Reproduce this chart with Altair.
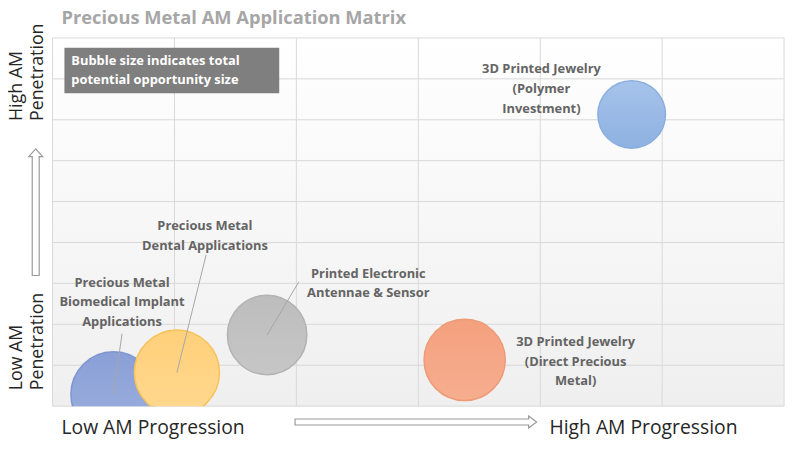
import altair as alt
import pandas as pd

# ---------------- data ----------------
apps = [
    "Precious Metal Biomedical Implant Applications",
    "Precious Metal Dental Applications",
    "Printed Electronic Antennae & Sensor",
    "3D Printed Jewelry (Direct Precious Metal)",
    "3D Printed Jewelry (Polymer Investment)",
]
progression = [0.50, 1.02, 1.76, 3.38, 4.75]      # AM progression (x)
penetration = [0.29, 0.82, 1.74, 1.13, 7.13]      # AM penetration (y)
opportunity = [1.00, 1.00, 0.87, 0.91, 0.63]      # relative opportunity size
label_text = [
    "Precious Metal\nBiomedical Implant\nApplications",
    "Precious Metal\nDental Applications",
    "Printed Electronic\nAntennae & Sensor",
    "3D Printed Jewelry\n(Direct Precious\nMetal)",
    "3D Printed Jewelry\n(Polymer\nInvestment)",
]
grid_x = [0, 1, 2, 3, 4, 5, 6]
grid_y = [0, 1, 2, 3, 4, 5, 6, 7, 8, 9]
title_text = "Precious Metal AM Application Matrix"
note_text = "Bubble size indicates total\npotential opportunity size"
x_low, x_high = "Low AM Progression", "High AM Progression"
y_low, y_high = ["Low AM", "Penetration"], ["High AM", "Penetration"]

# ---------------- annotation layout (data units, first text line) ----------------
label_x = [0.57, 1.25, 2.59, 4.29, 4.01]
label_y = [3.02, 4.40, 3.24, 1.57, 8.23]
leader_x = [0.57, 1.26, 2.02, None, None]
leader_y = [1.77, 3.70, 3.04, None, None]

# ---------------- style ----------------
fill_top = ["#8A9FD6", "#FFD07A", "#BDBDBD", "#F4A07E", "#A6C3EA"]
fill_bot = ["#9CB0DF", "#FFD88F", "#C6C6C6", "#F6AE8F", "#8DB1E1"]
strokes = ["#7D95D0", "#F5C25A", "#B3B3B3", "#EE9A76", "#8AAEDD"]
FONT = "Open Sans"
W, H = 739, 372
XDOM, YDOM = [0, 6], [0, 9]

bubbles = pd.DataFrame({"app": apps, "x": progression, "y": penetration, "size": opportunity})
labels = pd.DataFrame({"app": apps, "lx": label_x, "ly": label_y, "text": label_text})
leaders = pd.DataFrame({"app": apps, "lx": leader_x, "ly": leader_y,
                        "x": progression, "y": penetration}).dropna()
gx = pd.DataFrame({"g": grid_x})
gy = pd.DataFrame({"g": grid_y})
one = pd.DataFrame({"k": [0]})

xscale = alt.Scale(domain=XDOM, nice=False, zero=False)
yscale = alt.Scale(domain=YDOM, nice=False, zero=False)

def grad(top, bot):
    return alt.LinearGradient(gradient="linear",
                              stops=[alt.GradientStop(color=top, offset=0),
                                     alt.GradientStop(color=bot, offset=1)],
                              x1=0, x2=0, y1=0, y2=1)

layers = []

# plot background
layers.append(alt.Chart(one).mark_rect(fill=grad("#FFFFFF", "#EFEFEF")).encode(
    x=alt.value(0), x2=alt.value(W), y=alt.value(0), y2=alt.value(H)))

# grid lines
layers.append(alt.Chart(gx).mark_rule(color="#D9D9D9", strokeWidth=1).encode(
    x=alt.X("g:Q", scale=xscale, axis=None)))
layers.append(alt.Chart(gy).mark_rule(color="#D9D9D9", strokeWidth=1).encode(
    y=alt.Y("g:Q", scale=yscale, axis=None)))

# bubbles, one layer per application for individual gradients
for i, app in enumerate(apps):
    layers.append(
        alt.Chart(bubbles).transform_filter(alt.FieldEqualPredicate(field="app", equal=app))
        .mark_circle(fill=grad(fill_top[i], fill_bot[i]), stroke=strokes[i], strokeWidth=1.5,
                     opacity=1, clip=True)
        .encode(
            x=alt.X("x:Q", scale=xscale, axis=None),
            y=alt.Y("y:Q", scale=yscale, axis=None),
            size=alt.Size("size:Q", scale=alt.Scale(domain=[0, 1], range=[0, 7396]), legend=None),
        )
    )

# leader lines
layers.append(
    alt.Chart(leaders).mark_rule(color="#A6A6A6", strokeWidth=1).encode(
        x=alt.X("lx:Q", scale=xscale, axis=None),
        y=alt.Y("ly:Q", scale=yscale, axis=None),
        x2="x:Q", y2="y:Q",
    )
)

# bubble labels
layers.append(
    alt.Chart(labels).mark_text(font=FONT, fontSize=13, fontWeight="bold", color="#646464",
                                lineBreak="\n", lineHeight=20, align="center", baseline="middle").encode(
        x=alt.X("lx:Q", scale=xscale, axis=None),
        y=alt.Y("ly:Q", scale=yscale, axis=None),
        text="text:N",
    )
)

# note box
layers.append(alt.Chart(one).mark_rect(color="#7F7F7F").encode(
    x=alt.value(12), x2=alt.value(229), y=alt.value(10), y2=alt.value(56)))
layers.append(alt.Chart(one).mark_text(font=FONT, fontSize=13, fontWeight="bold", color="white",
                                       lineBreak="\n", lineHeight=20, align="left", baseline="middle").encode(
    x=alt.value(19), y=alt.value(23), text=alt.value(note_text)))

# title
layers.append(alt.Chart(one).mark_text(font=FONT, fontSize=18.5, fontWeight="bold", color="#A6A6A6",
                                       align="left", baseline="alphabetic").encode(
    x=alt.value(9), y=alt.value(-14.5), text=alt.value(title_text)))

# x-direction labels
for txt, xv in [(x_low, 9), (x_high, 502)]:
    layers.append(alt.Chart(one).mark_text(font=FONT, fontSize=19.5, color="#262626",
                                           align="left", baseline="alphabetic").encode(
        x=alt.value(xv), y=alt.value(400), text=alt.value(txt)))

# y-direction labels
for lines, yv in [(y_high, 84), (y_low, 356)]:
    for txt, xv in zip(lines, [-31, -10]):
        layers.append(alt.Chart(one).mark_text(font=FONT, fontSize=18, color="#262626", angle=270,
                                               align="left", baseline="alphabetic").encode(
            x=alt.value(xv), y=alt.value(yv), text=alt.value(txt)))

# arrows
up_arrow = "M-0.055,1 L-0.055,-0.875 L-0.11,-0.875 L0,-1 L0.11,-0.875 L0.055,-0.875 L0.055,1 Z"
right_arrow = "M-1,-0.025 L0.934,-0.025 L0.934,-0.05 L1,0 L0.934,0.05 L0.934,0.025 L-1,0.025 Z"
layers.append(alt.Chart(one).mark_point(shape=up_arrow, size=128 * 128, fill="white", fillOpacity=1,
                                        stroke="#9A9A9A", strokeWidth=1.2, opacity=1).encode(
    x=alt.value(-17), y=alt.value(176)))
layers.append(alt.Chart(one).mark_point(shape=right_arrow, size=244 * 244, fill="white", fillOpacity=1,
                                        stroke="#9A9A9A", strokeWidth=1.2, opacity=1).encode(
    x=alt.value(367), y=alt.value(388)))

chart = alt.layer(*layers).properties(
    width=W, height=H, autosize="none",
    padding={"left": 45, "top": 28, "right": 8, "bottom": 34},
    background="white",
).configure_view(strokeWidth=0)

chart.save("out.html", embed_options={"renderer": "svg", "actions": False})
